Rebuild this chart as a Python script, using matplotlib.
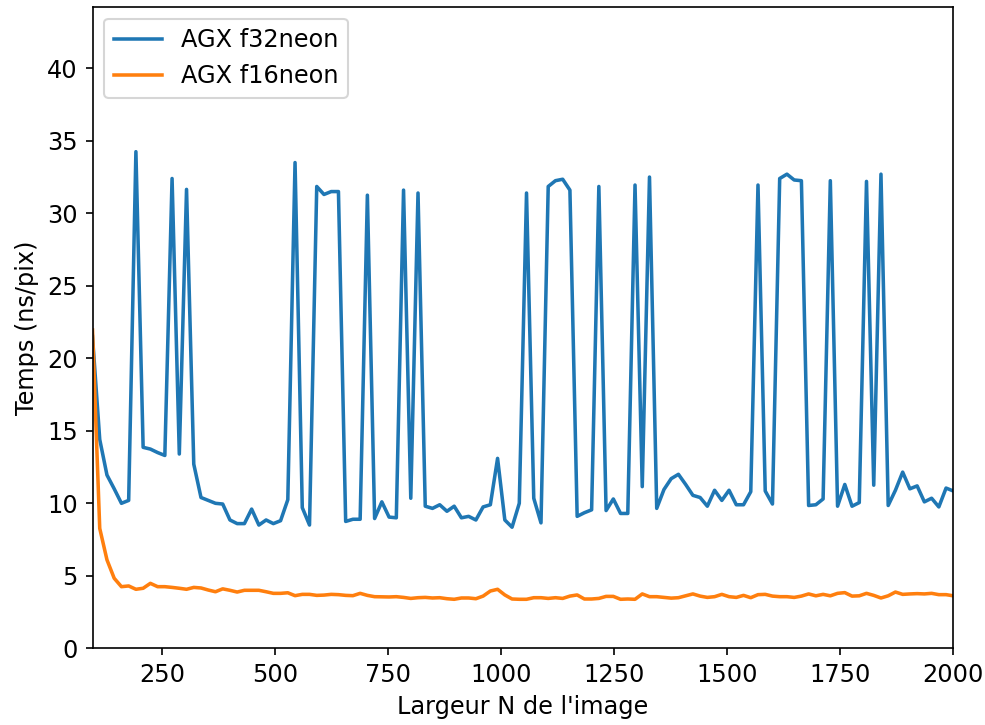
import numpy as np
import matplotlib
matplotlib.use("Agg")
import matplotlib.pyplot as plt

# Image width N
x_start, x_step, n_points = 96, 16, 120
largeur = [x_start + x_step * k for k in range(n_points)]

f32neon = [
    21.5, 14.4, 11.95, 11.0, 10.0, 10.2, 34.25, 13.86, 13.74, 13.5,
    13.3, 32.4, 13.4, 31.65, 12.7, 10.4, 10.2, 10.0, 9.95, 8.85,
    8.6, 8.6, 9.6, 8.5, 8.85, 8.6, 8.8, 10.25, 33.5, 9.7,
    8.5, 31.85, 31.3, 31.5, 31.5, 8.75, 8.9, 8.9, 31.25, 8.95,
    10.1, 9.05, 9.0, 31.6, 10.35, 31.4, 9.8, 9.65, 9.9, 9.45,
    9.8, 9.0, 9.1, 8.85, 9.75, 9.9, 13.1, 8.85, 8.35, 10.0,
    31.4, 10.35, 8.65, 31.85, 32.25, 32.35, 31.6, 9.1, 9.35, 9.55,
    31.85, 9.5, 10.3, 9.3, 9.3, 31.95, 11.15, 32.5, 9.65, 10.95,
    11.7, 12.0, 11.3, 10.55, 10.4, 9.8, 10.9, 10.2, 10.9, 9.9,
    9.9, 10.8, 31.95, 10.85, 9.95, 32.4, 32.7, 32.3, 32.25, 9.85,
    9.9, 10.3, 32.25, 9.8, 11.3, 9.8, 10.05, 32.2, 11.25, 32.7,
    9.85, 10.9, 12.15, 11.0, 11.2, 10.1, 10.35, 9.75, 11.05, 10.85,
]

f16neon = [
    21.95, 8.27, 6.1, 4.83, 4.25, 4.3, 4.07, 4.14, 4.48, 4.25,
    4.25, 4.2, 4.14, 4.07, 4.2, 4.16, 4.02, 3.9, 4.1, 4.0,
    3.88, 4.0, 4.0, 4.0, 3.9, 3.79, 3.79, 3.83, 3.63, 3.72,
    3.72, 3.65, 3.67, 3.72, 3.7, 3.65, 3.63, 3.79, 3.65, 3.56,
    3.55, 3.54, 3.56, 3.51, 3.44, 3.49, 3.51, 3.47, 3.49, 3.42,
    3.38, 3.47, 3.47, 3.42, 3.6, 3.95, 4.07, 3.68, 3.4, 3.38,
    3.38, 3.49, 3.49, 3.44, 3.49, 3.44, 3.6, 3.68, 3.4, 3.4,
    3.44, 3.58, 3.58, 3.38, 3.4, 3.38, 3.75, 3.56, 3.56, 3.51,
    3.46, 3.49, 3.62, 3.75, 3.6, 3.51, 3.56, 3.72, 3.56, 3.51,
    3.65, 3.49, 3.7, 3.72, 3.6, 3.56, 3.56, 3.51, 3.6, 3.75,
    3.62, 3.72, 3.62, 3.79, 3.84, 3.6, 3.62, 3.79, 3.65, 3.47,
    3.62, 3.88, 3.72, 3.75, 3.77, 3.75, 3.79, 3.7, 3.7, 3.62,
]

labels = ["AGX f32neon", "AGX f16neon"]

plt.rcParams["font.size"] = 11.5

W, H, DPI = 985, 725, 150
fig = plt.figure(figsize=(W / DPI, H / DPI), dpi=DPI)
ax = fig.add_axes([92.5 / W, (H - 648.3) / H, (953.3 - 92.5) / W, (648.3 - 6.7) / H])

ax.plot(largeur, f32neon, color="#1f77b4", linewidth=1.7, label=labels[0])
ax.plot(largeur, f16neon, color="#ff7f0e", linewidth=1.7, label=labels[1])

ax.set_xlim(96, 2000)
ax.set_ylim(0, 44.25)
ax.set_xticks([250, 500, 750, 1000, 1250, 1500, 1750, 2000])
ax.set_yticks([0, 5, 10, 15, 20, 25, 30, 35, 40])
ax.set_xlabel("Largeur N de l'image")
ax.set_ylabel("Temps (ns/pix)")
ax.legend(loc="upper left")

fig.savefig("out.png", dpi=DPI)
